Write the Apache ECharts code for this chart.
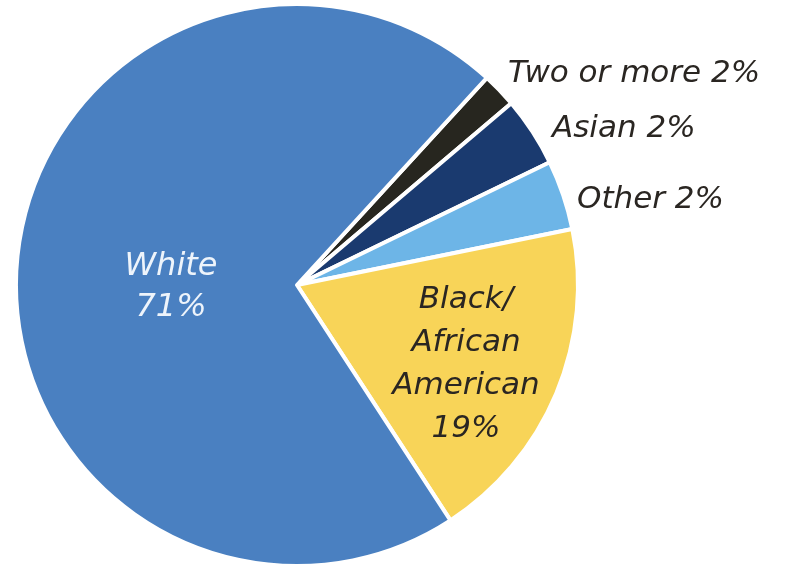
<!DOCTYPE html>
<html>
<head>
<meta charset="utf-8">
<script src="https://cdn.jsdelivr.net/npm/echarts@6/dist/echarts.min.js"></script>
<style>
html,body{margin:0;padding:0;background:#fff;}
#chart{width:787px;height:572px;}
</style>
</head>
<body>
<div id="chart"></div>
<script>
// Categories in drawing order (clockwise from the top-right)
var categories = ['Two or more', 'Asian', 'Other', 'Black/\nAfrican\nAmerican', 'White'];
var sliceValues = [2, 4, 4, 19, 71];
// Percentages printed on the labels
var labelPercents = ['2%', '2%', '2%', '19%', '71%'];
var sliceColors = ['#27261f', '#1a3a6f', '#6db5e7', '#f8d458', '#4a80c1'];

var chart = echarts.init(document.getElementById('chart'), null, {renderer: 'canvas'});

var FONT = '"DejaVu Sans", sans-serif';

var data = categories.map(function (c, i) {
  var isInside = (i >= 3);
  return {
    name: c,
    value: sliceValues[i],
    itemStyle: {color: sliceColors[i]},
    label: {
      show: true,
      position: isInside ? 'inside' : 'outside',
      formatter: isInside ? (c + '\n' + labelPercents[i]) : (c + ' ' + labelPercents[i]),
      color: i === 4 ? '#eef4fb' : '#2a2622',
      fontFamily: FONT,
      fontStyle: 'italic',
      fontSize: i === 4 ? 32 : 31,
      lineHeight: i === 4 ? 41 : 43,
      align: isInside ? 'center' : 'left'
    },
    labelLine: {show: false}
  };
});

// label anchor positions (text only)
var labelPos = [
  {x: 508, y: 74, align: 'left'},
  {x: 552, y: 129, align: 'left'},
  {x: 577, y: 200, align: 'left'},
  {x: 466, y: 364, align: 'center'},
  {x: 171, y: 287, align: 'center'}
];

chart.setOption({
  animation: false,
  backgroundColor: '#ffffff',
  series: [{
    type: 'pie',
    center: [297, 285],
    radius: 281,
    startAngle: 47.5,
    clockwise: true,
    avoidLabelOverlap: false,
    itemStyle: {borderColor: '#ffffff', borderWidth: 4},
    emphasis: {disabled: true},
    labelLayout: function (p) {
      var lp = labelPos[p.dataIndex];
      return {x: lp.x, y: lp.y, align: lp.align, verticalAlign: 'middle'};
    },
    data: data
  }]
});
</script>
</body>
</html>
